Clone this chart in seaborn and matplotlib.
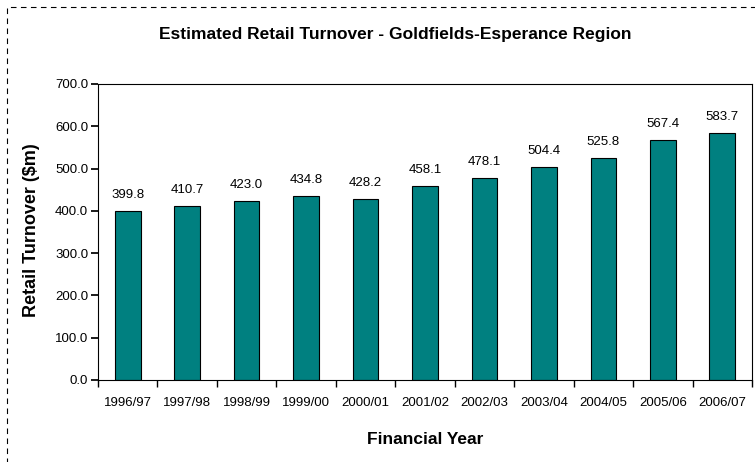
import matplotlib
matplotlib.use("Agg")
import matplotlib.pyplot as plt
import matplotlib.patches as mpatches
from matplotlib.ticker import FormatStrFormatter, FixedLocator
import seaborn as sns
import pandas as pd

years = ["1996/97", "1997/98", "1998/99", "1999/00", "2000/01", "2001/02",
         "2002/03", "2003/04", "2004/05", "2005/06", "2006/07"]
turnover = [399.8, 410.7, 423.0, 434.8, 428.2, 458.1, 478.1, 504.4, 525.8, 567.4, 583.7]

sns.set_theme(style="white")
plt.rcParams['font.family'] = ['Liberation Sans', 'DejaVu Sans']
plt.rcParams['text.color'] = 'black'
plt.rcParams['xtick.color'] = 'black'
plt.rcParams['ytick.color'] = 'black'

df = pd.DataFrame({"year": years, "value": turnover})

fig = plt.figure(figsize=(7.55, 4.62), dpi=100)
ax = fig.add_axes([98/755, 1-380/462, (752-98)/755, (380-84)/462])

sns.barplot(data=df, x="year", y="value", color="#008080", width=0.43,
            edgecolor="black", linewidth=0.8, saturation=1, ax=ax)

ax.set_ylim(0, 700)
ax.set_xlim(-0.5, len(years) - 0.5)
ax.set_yticks(range(0, 701, 100))
ax.yaxis.set_major_formatter(FormatStrFormatter("%.1f"))
ax.tick_params(axis="y", labelsize=9.5, length=5, direction="out", left=True, pad=2)
ax.tick_params(axis="x", labelsize=9.5, length=0, pad=12)
ax.xaxis.set_minor_locator(FixedLocator([i - 0.5 for i in range(len(years) + 1)]))
ax.tick_params(axis="x", which="minor", length=5, direction="out", bottom=True)

for sp in ax.spines.values():
    sp.set_visible(True)
    sp.set_color("black")
    sp.set_linewidth(0.8)

for i, v in enumerate(turnover):
    ax.text(i, v + 24, f"{v:.1f}", ha="center", va="bottom", fontsize=9.5)

ax.set_xlabel("")
ax.set_ylabel("")
fig.text(425/755, 1-440/462, "Financial Year", ha="center", va="center",
         fontsize=12.5, fontweight="bold")
fig.text(32/755, 1-230/462, "Retail Turnover ($m)", ha="center", va="center",
         rotation=90, fontsize=13, fontweight="bold")

fig.text(395/755, 1-35/462, "Estimated Retail Turnover - Goldfields-Esperance Region",
         ha="center", va="center", fontsize=12.5, fontweight="bold")

rect = mpatches.Rectangle((7/755, -0.1), 1.2, 1 - 7/462 + 0.1, transform=fig.transFigure,
                          fill=False, edgecolor="black", linestyle=(0, (5, 4)), linewidth=0.8,
                          clip_on=False)
fig.patches.append(rect)

fig.savefig("out.png", dpi=100)
